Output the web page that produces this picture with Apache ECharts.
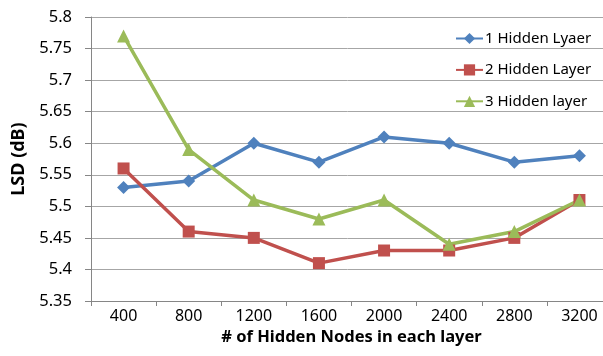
<!DOCTYPE html>
<html>
<head>
<meta charset="utf-8">
<style>
  html, body { margin: 0; padding: 0; background: #fff; }
  #chart { width: 603px; height: 356px; }
</style>
<script src="https://cdn.jsdelivr.net/npm/echarts@6/dist/echarts.min.js"></script>
</head>
<body>
<div id="chart"></div>
<script>
// Hidden-node counts per layer (x categories)
const categories = ['400', '800', '1200', '1600', '2000', '2400', '2800', '3200'];

// LSD (dB) for each network depth
const oneHidden   = [5.53, 5.54, 5.60, 5.57, 5.61, 5.60, 5.57, 5.58];
const twoHidden   = [5.56, 5.46, 5.45, 5.41, 5.43, 5.43, 5.45, 5.51];
const threeHidden = [5.77, 5.59, 5.51, 5.48, 5.51, 5.44, 5.46, 5.51];

const seriesNames = ['1 Hidden Lyaer', '2 Hidden Layer', '3 Hidden layer'];

const FONT = '"Noto Sans", "Open Sans", sans-serif';

const chart = echarts.init(document.getElementById('chart'), null, { renderer: 'canvas' });

function lineSeries(name, data, color, symbol, size) {
  return {
    name: name,
    type: 'line',
    data: data,
    symbol: symbol,
    symbolSize: size,
    lineStyle: { color: color, width: 3.5 },
    itemStyle: { color: color },
    emphasis: { disabled: true },
    animation: false
  };
}

chart.setOption({
  animation: false,
  backgroundColor: '#ffffff',
  // the plot runs past the right edge of the canvas, so the last band is clipped
  grid: { left: 91, top: 17, width: 521, height: 284, containLabel: false, outerBoundsMode: 'none' },
  legend: {
    orient: 'vertical',
    left: 450,
    top: 26,
    itemWidth: 27,
    itemHeight: 14,
    itemGap: 16.4,
    data: seriesNames,
    textStyle: { fontFamily: FONT, fontSize: 15, color: '#000', padding: [0, 0, 0, -3] }
  },
  xAxis: {
    type: 'category',
    data: categories,
    boundaryGap: true,
    name: '# of Hidden Nodes in each layer',
    nameLocation: 'middle',
    nameGap: 28,
    nameTextStyle: { fontFamily: FONT, fontSize: 16.5, fontWeight: 'bold', color: '#000' },
    axisLine: { lineStyle: { color: '#868686', width: 1 } },
    axisTick: { show: true, alignWithLabel: false, length: 5, lineStyle: { color: '#868686' } },
    axisLabel: { fontFamily: FONT, fontSize: 16, color: '#000', margin: 7 },
    splitLine: { show: false }
  },
  yAxis: {
    type: 'value',
    min: 5.35,
    max: 5.8,
    interval: 0.05,
    name: 'LSD (dB)',
    nameLocation: 'middle',
    nameGap: 60,
    nameRotate: 90,
    nameTextStyle: { fontFamily: FONT, fontSize: 18, fontWeight: 'bold', color: '#000' },
    axisLine: { show: true, lineStyle: { color: '#868686', width: 1 } },
    axisTick: { show: true, length: 6, lineStyle: { color: '#868686' } },
    axisLabel: {
      fontFamily: FONT, fontSize: 16.5, color: '#000', margin: 19,
      formatter: v => String(parseFloat(v.toFixed(2)))
    },
    splitLine: { show: true, lineStyle: { color: '#a6a6a6', width: 1 } }
  },
  series: [
    lineSeries(seriesNames[0], oneHidden,   '#4F81BD', 'diamond',  13),
    lineSeries(seriesNames[1], twoHidden,   '#C0504D', 'rect',     12),
    lineSeries(seriesNames[2], threeHidden, '#9BBB59', 'triangle', 13)
  ]
});
</script>
</body>
</html>
